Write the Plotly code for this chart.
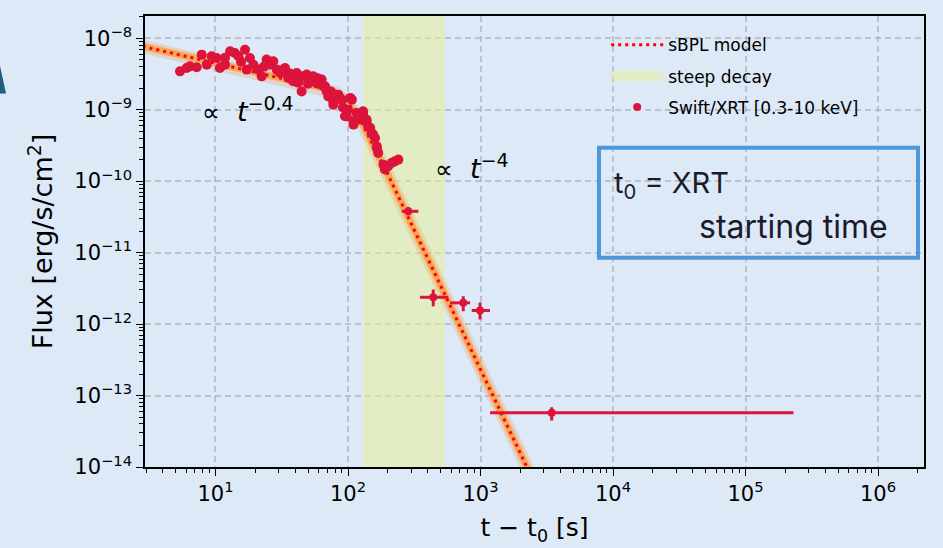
import plotly.graph_objects as go

# Swift/XRT light curve, dense early part (error bars smaller than markers)
t_xrt = [5.40, 6.06, 6.42, 7.21, 7.87, 8.59, 9.36, 10.2, 10.8, 11.8, 11.8, 12.9, 14.0, 14.9,
         15.6, 16.7, 17.2, 18.2, 19.3, 21.0, 22.3, 23.2, 24.3, 25.8, 27.3, 29.0, 30.7, 32.5,
         33.5, 35.4, 36.5, 38.6, 38.6, 41.0, 42.0, 44.7, 46.0, 48.8, 49.9, 51.6, 54.7, 54.7,
         58.1, 59.4, 61.5, 63.3, 65.1, 67.1, 69.1, 71.0, 73.1, 74.4, 77.5, 77.5, 82.2, 84.5,
         87.0, 89.7, 91.6, 94.9, 97.8, 100, 104, 107, 110, 110, 116, 119, 123, 130, 130,
         138, 138, 142, 147, 151, 155, 160, 165, 165, 169, 185, 190, 201, 214, 226, 240]
f_xrt = [3.43e-9, 3.83e-9, 4.03e-9, 3.91e-9, 5.88e-9, 4.26e-9, 5.57e-9, 5.28e-9, 3.83e-9,
         4.26e-9, 5.34e-9, 6.54e-9, 6.21e-9, 5.57e-9, 4.69e-9, 6.90e-9, 3.63e-9, 5.28e-9,
         4.26e-9, 3.63e-9, 2.92e-9, 4.00e-9, 5.01e-9, 4.26e-9, 4.74e-9, 3.63e-9, 3.26e-9,
         3.63e-9, 3.83e-9, 2.78e-9, 3.19e-9, 2.92e-9, 2.49e-9, 3.26e-9, 2.39e-9, 1.80e-9,
         2.92e-9, 3.09e-9, 2.31e-9, 2.78e-9, 2.49e-9, 2.92e-9, 2.78e-9, 2.31e-9, 2.63e-9,
         2.63e-9, 2.12e-9, 2.12e-9, 1.80e-9, 1.53e-9, 1.53e-9, 1.79e-9, 1.17e-9, 1.31e-9,
         1.53e-9, 1.62e-9, 1.46e-9, 1.38e-9, 1.07e-9, 8.06e-10, 8.06e-10, 1.00e-9, 1.46e-9,
         1.38e-9, 6.86e-10, 6.17e-10, 8.99e-10, 7.25e-10, 8.51e-10, 9.47e-10, 8.51e-10,
         6.86e-10, 7.24e-10, 5.84e-10, 5.55e-10, 4.72e-10, 4.47e-10, 4.02e-10, 2.91e-10,
         3.07e-10, 2.48e-10, 1.70e-10, 1.45e-10, 1.61e-10, 1.80e-10, 1.89e-10, 2.00e-10]

# Later binned points with time bins and flux errors
t_late = [285, 440, 741, 992, 3445]
t_late_lo = [254, 349, 589, 859, 1180]
t_late_hi = [340, 571, 834, 1180, 230000]
f_late = [3.78e-11, 2.37e-12, 1.98e-12, 1.55e-12, 5.73e-14]
f_late_lo = [3.32e-11, 1.77e-12, 1.51e-12, 1.16e-12, 4.47e-14]
f_late_hi = [4.31e-11, 3.04e-12, 2.45e-12, 2.00e-12, 6.85e-14]

# Smoothly broken power-law model curve
t_model = [2.82, 10, 31.6, 50.1, 63.1, 79.4, 100, 126, 158, 200, 316, 1000, 3162]
f_model = [7.67e-9, 4.51e-9, 2.78e-9, 2.28e-9, 2.04e-9, 1.74e-9, 1.25e-9, 6.76e-10,
           2.99e-10, 1.24e-10, 2.07e-11, 2.32e-13, 2.60e-15]

# Steep-decay time window
steep_start, steep_end = 130, 540

x_ticks = [10, 100, 1e3, 1e4, 1e5, 1e6]
x_ticktext = ["10<sup>1</sup>", "10<sup>2</sup>", "10<sup>3</sup>", "10<sup>4</sup>",
              "10<sup>5</sup>", "10<sup>6</sup>"]
y_ticks = [1e-14, 1e-13, 1e-12, 1e-11, 1e-10, 1e-9, 1e-8]
y_ticktext = ["10<sup>−14</sup>", "10<sup>−13</sup>", "10<sup>−12</sup>", "10<sup>−11</sup>",
              "10<sup>−10</sup>", "10<sup>−9</sup>", "10<sup>−8</sup>"]

BG = "#dde9f6"
RED = "#dc143c"
BAND = "rgba(233,241,148,0.5)"
FONT = "DejaVu Sans"

x_minor = [m * 10 ** e for e in range(0, 7) for m in range(2, 10)]
y_minor = [m * 10.0 ** e for e in range(-14, -7) for m in range(2, 10)]

fig = go.Figure()

# steep decay band
fig.add_trace(go.Scatter(
    x=[steep_start, steep_end, steep_end, steep_start, steep_start],
    y=[1e-16, 1e-16, 1e-6, 1e-6, 1e-16],
    mode="lines", fill="toself", fillcolor=BAND, line=dict(width=0, color=BAND),
    showlegend=False, hoverinfo="skip"))
# legend swatch for the band
fig.add_trace(go.Scatter(x=[None], y=[None], mode="lines", name="steep decay",
                         legendgroup="b", legendrank=2,
                         line=dict(color=BAND, width=17)))

# model uncertainty band (drawn as wide translucent strokes)
fig.add_trace(go.Scatter(x=t_model, y=f_model, mode="lines", showlegend=False,
                         line=dict(color="rgba(240,150,90,0.28)", width=13)))
fig.add_trace(go.Scatter(x=t_model, y=f_model, mode="lines", showlegend=False,
                         line=dict(color="rgba(246,165,82,0.92)", width=7)))
fig.add_trace(go.Scatter(x=t_model, y=f_model, mode="lines", name="sBPL model",
                         legendgroup="a", legendrank=1,
                         line=dict(color="red", width=3, dash="3px,4px")))

# XRT data
fig.add_trace(go.Scatter(x=t_xrt, y=f_xrt, mode="markers", showlegend=False,
                         marker=dict(color=RED, size=10)))
fig.add_trace(go.Scatter(
    x=t_late, y=f_late, mode="markers", name="Swift/XRT [0.3-10 keV]",
    legendgroup="c", legendrank=3,
    marker=dict(color=RED, size=8),
    error_x=dict(type="data", symmetric=False,
                 array=[h - v for h, v in zip(t_late_hi, t_late)],
                 arrayminus=[v - l for v, l in zip(t_late, t_late_lo)],
                 color=RED, thickness=3, width=0),
    error_y=dict(type="data", symmetric=False,
                 array=[h - v for h, v in zip(f_late_hi, f_late)],
                 arrayminus=[v - l for v, l in zip(f_late, f_late_lo)],
                 color=RED, thickness=3, width=0)))

axis_common = dict(
    type="log", showline=True, linecolor="black", linewidth=1.5, mirror=True,
    ticks="outside", ticklen=7, tickwidth=1.3, tickcolor="black", automargin=False,
    showgrid=True, gridcolor="rgba(160,170,180,0.6)", gridwidth=1.5, griddash="6px,4px",
    zeroline=False, tickfont=dict(family=FONT, size=21, color="black"),
)

fig.update_xaxes(**axis_common, range=[0.468, 6.347], tickmode="array",
                 tickvals=x_ticks, ticktext=x_ticktext,
                 minor=dict(tickmode="array", tickvals=x_minor, ticks="outside",
                            ticklen=4, tickwidth=1, tickcolor="black", showgrid=False),
                 title=dict(text="t − t<sub>0</sub> [s]", standoff=14,
                            font=dict(family=FONT, size=25, color="black")))
fig.update_yaxes(**axis_common, range=[-14, -7.69], tickmode="array",
                 tickvals=y_ticks, ticktext=y_ticktext,
                 minor=dict(tickmode="array", tickvals=y_minor, ticks="outside",
                            ticklen=4, tickwidth=1, tickcolor="black", showgrid=False),
                 title=dict(text="Flux [erg/s/cm<sup>2</sup>]", standoff=14,
                            font=dict(family=FONT, size=27, color="black")))

fig.update_layout(
    width=943, height=548,
    margin=dict(l=145, r=19, t=16, b=81),
    paper_bgcolor=BG, plot_bgcolor=BG,
    legend=dict(x=0.592, y=0.975, xanchor="left", yanchor="top",
                bgcolor="rgba(0,0,0,0)", borderwidth=0, traceorder="grouped",
                itemwidth=52, tracegroupgap=6,
                font=dict(family=FONT, size=17, color="black")),
    showlegend=True,
)

# power-law slope labels
fig.add_annotation(x=1.245, y=-9.0, xref="x", yref="y", showarrow=False,
                   text="<span style='font-size:25px'>∝</span>  <i>t</i><sup>−0.4</sup>",
                   font=dict(family=FONT, size=27, color="black"))
fig.add_annotation(x=2.93, y=-9.8, xref="x", yref="y", showarrow=False,
                   text="<span style='font-size:25px'>∝</span>  <i>t</i><sup>−4</sup>",
                   font=dict(family=FONT, size=27, color="black"))

# t0 definition box
fig.add_shape(type="rect", xref="paper", yref="paper",
              x0=0.5828, x1=0.9923, y0=0.4642, y1=0.7081,
              line=dict(color="#4f97db", width=4), fillcolor="rgba(0,0,0,0)")
fig.add_annotation(x=0.5995, y=0.626, xref="paper", yref="paper", showarrow=False,
                   xanchor="left", text="t<sub>0</sub> = XRT",
                   font=dict(family="Inter", size=29, color="#1a1a2a"))
fig.add_annotation(x=0.7086, y=0.533, xref="paper", yref="paper", showarrow=False,
                   xanchor="left", text="starting time",
                   font=dict(family="Inter", size=32, color="#1a1a2a"))

# slide edge decoration
fig.add_shape(type="path", xref="paper", yref="paper",
              path="M -0.1861,0.8889 L -0.1784,0.8284 L -0.1861,0.8284 Z",
              fillcolor="#1d5f7e", line=dict(width=0))

fig.write_html("out.html")
